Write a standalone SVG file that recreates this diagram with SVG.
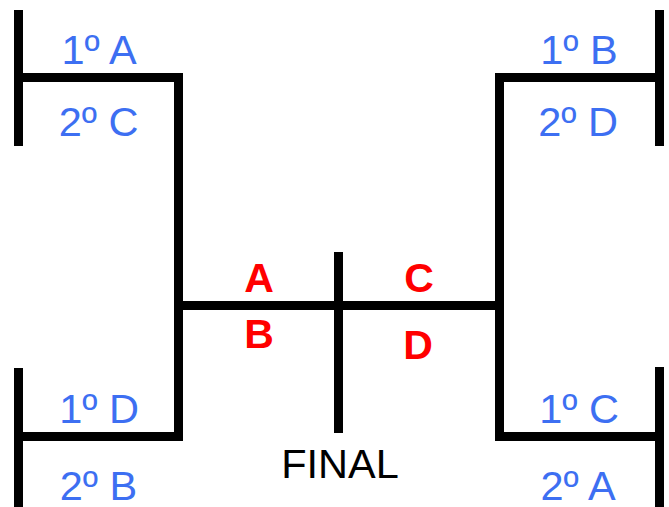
<svg xmlns="http://www.w3.org/2000/svg" width="669" height="507" viewBox="0 0 669 507">
<style>
.ln{fill:none;stroke:#000;stroke-width:9;stroke-linejoin:miter;stroke-linecap:butt}
.t{font-family:"Liberation Sans",Arial,sans-serif;font-size:41.5px;fill:#3d6ff2;text-anchor:middle}
.r{font-family:"Liberation Sans",Arial,sans-serif;font-size:41px;font-weight:bold;fill:#ff0000;text-anchor:middle}
.f{font-family:"Liberation Sans",Arial,sans-serif;font-size:41.5px;fill:#000;text-anchor:middle}
</style>
<rect width="669" height="507" fill="#fff"/>
<g id="connectors">
<path class="ln" d="M18.5 77.5 H178.5 V436.5 H18.5"/>
<path class="ln" d="M18.5 10 V146"/>
<path class="ln" d="M18.5 368 V507"/>
<path class="ln" d="M178.5 305.5 H499.5"/>
<path class="ln" d="M659.5 77.5 H499.5 V436.5 H659.5"/>
<path class="ln" d="M659.5 10 V146"/>
<path class="ln" d="M659.5 367 V507"/>
<path class="ln" d="M338.5 252 V433"/>
</g>
<g id="n1A"><text class="t" x="99" y="64">1º A</text></g>
<g id="n2C"><text class="t" x="98.5" y="136">2º C</text></g>
<g id="n1B"><text class="t" x="579" y="64">1º B</text></g>
<g id="n2D"><text class="t" x="578" y="136">2º D</text></g>
<g id="n1D"><text class="t" x="99" y="423">1º D</text></g>
<g id="n2B"><text class="t" x="98.5" y="500">2º B</text></g>
<g id="n1C"><text class="t" x="579" y="423">1º C</text></g>
<g id="n2A"><text class="t" x="578" y="500">2º A</text></g>
<g id="semiA"><text class="r" x="259" y="292">A</text></g>
<g id="semiB"><text class="r" x="259" y="348">B</text></g>
<g id="semiC"><text class="r" x="419" y="292">C</text></g>
<g id="semiD"><text class="r" x="418" y="359">D</text></g>
<g id="final"><text class="f" x="340" y="478">FINAL</text></g>
</svg>
